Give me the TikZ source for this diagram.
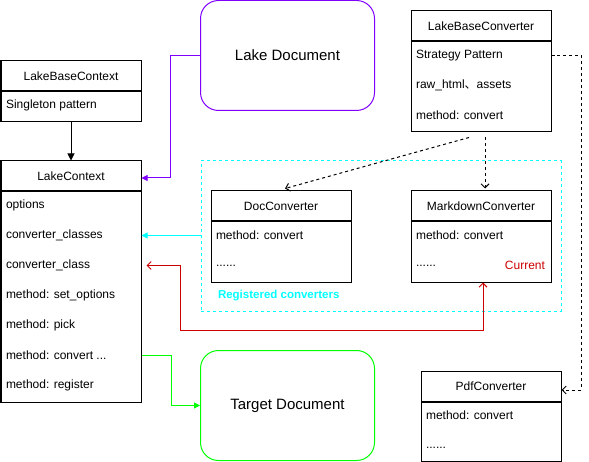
\documentclass[tikz,border=0pt]{standalone}
\usepackage{fontspec}
\setmainfont{Liberation Sans}
\newfontfamily\cjk{Noto Sans CJK SC}
\usetikzlibrary{arrows.meta}
\definecolor{lakepurple}{HTML}{7F00FF}
\definecolor{lakegreen}{HTML}{00FF00}
\definecolor{lakecyan}{HTML}{00FFFF}
\definecolor{lakered}{HTML}{CC0000}
\newcommand{\fsz}[1]{\fontsize{#1bp}{#1bp}\selectfont}
\newcommand{\threedots}{...}
\tikzset{
  hdr/.style={draw, minimum width=140bp, minimum height=30bp, anchor=north west, inner sep=0pt, font=\fsz{12}},
  body/.style={draw, minimum width=140bp, anchor=north west, inner sep=0pt},
  item/.style={anchor=west, inner sep=0pt, font=\fsz{12}},
  docbox/.style={draw, rounded corners=18bp, minimum width=174bp, minimum height=110bp, font=\fsz{15}},
  inherit/.style={dashed, -{Straight Barb[length=4bp,width=8bp]}},
  assoc/.style={-{Triangle[length=6bp,width=6bp]}},
}
\begin{document}
\begin{tikzpicture}[x=1bp, y=-1bp, line width=1bp]
\useasboundingbox (-0.5,-0.5) rectangle (588.5,461.5);
% documents
\node[docbox, draw=lakepurple] (lakedoc) at (287,55) {Lake Document};
\node[docbox, draw=lakegreen] (target) at (287,405) {Target Document};
% context side
\node[hdr] (basectx) at (0,60) {LakeBaseContext};
\node[body, minimum height=30bp] (basectxb) at (basectx.south west) {};
\node[item] at (5,105) {Singleton pattern};
\node[hdr] (ctx) at (0,160) {LakeContext};
\node[body, minimum height=210bp] (ctxb) at (ctx.south west) {};
\foreach \t [count=\i] in {options, converter\_classes, converter\_class, method: set\_options, method: pick, method: convert \threedots, method: register}
  \node[item] (ctxrow\i) at (5,175+30*\i) {\t};
% converters
\node[draw=lakecyan, dashed, minimum width=360bp, minimum height=150bp, anchor=north west, inner sep=0pt] (registered) at (200,160) {};
\node[item, text=lakecyan, font=\fsz{11.5}\bfseries] at (217,295) {Registered converters};
\node[hdr] (lbc) at (410,10) {LakeBaseConverter};
\node[body, minimum height=90bp] (lbcb) at (lbc.south west) {};
\node[item] (lbcrow1) at (415,55) {Strategy Pattern};
\node[item] at (415,85) {raw\_html{\cjk 、}assets};
\node[item] at (415,115) {method: convert};
\node[hdr] (docc) at (210,190) {DocConverter};
\node[body, minimum height=60bp] (doccb) at (docc.south west) {};
\node[item] at (215,235) {method: convert};
\node[item] at (215,265) {......};
\node[hdr] (mdc) at (410,190) {MarkdownConverter};
\node[body, minimum height=60bp] (mdcb) at (mdc.south west) {};
\node[item] at (415,235) {method: convert};
\node[item] at (415,265) {......};
\node[item, anchor=east, text=lakered] at (545,265) {Current};
\node[hdr] (pdfc) at (420,370) {PdfConverter};
\node[body, minimum height=59bp] (pdfcb) at (pdfc.south west) {};
\node[item] at (425,415) {method: convert};
\node[item] at (425,447) {......};
% connectors
\draw[-{Triangle[length=7bp,width=7bp]}] (basectxb.south) -- (ctx.north);
\draw[assoc, lakepurple] (lakedoc.west) -- ++(-30,0) |- ([yshift=-2bp]ctx.east);
\draw[assoc, lakecyan] (registered.west |- ctxrow2) -- (ctxb.east |- ctxrow2);
\draw[lakered, {Straight Barb[length=4bp,width=8bp]}-{Straight Barb[length=4bp,width=8bp]}]
  ([xshift=2bp]mdcb.south) |- (180,330) |- ([xshift=5bp]ctxb.east |- ctxrow3);
\draw[assoc, lakegreen] (ctxb.east |- ctxrow6) -- ++(30,0) |- (target.west);
\draw[inherit] ([xshift=-12bp,yshift=-5bp]lbcb.south) -- ([xshift=4bp,yshift=2bp]docc.north);
\draw[inherit] ([xshift=4bp,yshift=-5bp]lbcb.south) -- ([xshift=4bp,yshift=2bp]mdc.north);
\draw[inherit] (lbcb.east |- lbcrow1) -- ++(30,0) |- ([yshift=-4bp]pdfc.east);
\end{tikzpicture}
\end{document}
